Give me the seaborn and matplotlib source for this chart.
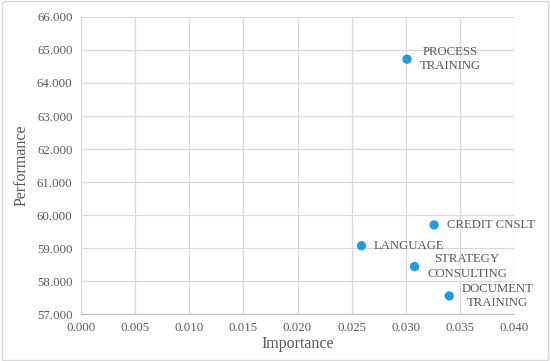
import pandas as pd
import matplotlib.pyplot as plt
import seaborn as sns
from matplotlib.patches import Rectangle

# values
services = ['PROCESS\nTRAINING', 'CREDIT CNSLT', 'LANGUAGE', 'STRATEGY\nCONSULTING', 'DOCUMENT\nTRAINING']
importance = [0.0301, 0.0326, 0.0259, 0.0308, 0.0340]
performance = [64.72, 59.70, 59.07, 58.44, 57.55]
x_ticks = [0.000, 0.005, 0.010, 0.015, 0.020, 0.025, 0.030, 0.035, 0.040]
y_ticks = [57, 58, 59, 60, 61, 62, 63, 64, 65, 66]

df = pd.DataFrame({'service': services, 'Importance': importance, 'Performance': performance})

sns.set_style('whitegrid')
plt.rcParams['font.family'] = ['Liberation Serif', 'DejaVu Serif']
gray = '#595959'

fig = plt.figure(figsize=(5.5, 3.61), dpi=100)
ax = fig.add_axes([0.147, 0.130, 0.788, 0.823])
sns.scatterplot(x='Importance', y='Performance', data=df, ax=ax,
                color='#1f9de0', s=45, edgecolor='none', zorder=3)

for _, row in df.iterrows():
    ax.annotate(row['service'], (row['Importance'], row['Performance']),
                xytext=(9, 0), textcoords='offset points', ha='left', va='center',
                multialignment='center', fontsize=9.2, color=gray, linespacing=1.25)

ax.set_xlim(0, 0.04)
ax.set_ylim(57, 66)
ax.set_xticks(x_ticks)
ax.set_yticks(y_ticks)
ax.set_xticklabels(['%.3f' % v for v in x_ticks])
ax.set_yticklabels(['%.3f' % v for v in y_ticks])
ax.tick_params(length=0, labelsize=9.3, colors=gray, pad=6)
ax.grid(color='#d9d9d9', linewidth=0.9)
for side in ['top', 'right', 'left']:
    ax.spines[side].set_visible(False)
ax.spines['bottom'].set_color('#bfbfbf')
ax.set_xlabel('Importance', fontsize=11.5, color=gray, labelpad=1)
ax.set_ylabel('Performance', fontsize=11.5, color=gray, labelpad=5)

fig.patches.append(Rectangle((0.003, 0.004), 0.994, 0.992, transform=fig.transFigure,
                             fill=False, edgecolor='#d9d9d9', linewidth=1))

plt.savefig('out.png', dpi=100)
